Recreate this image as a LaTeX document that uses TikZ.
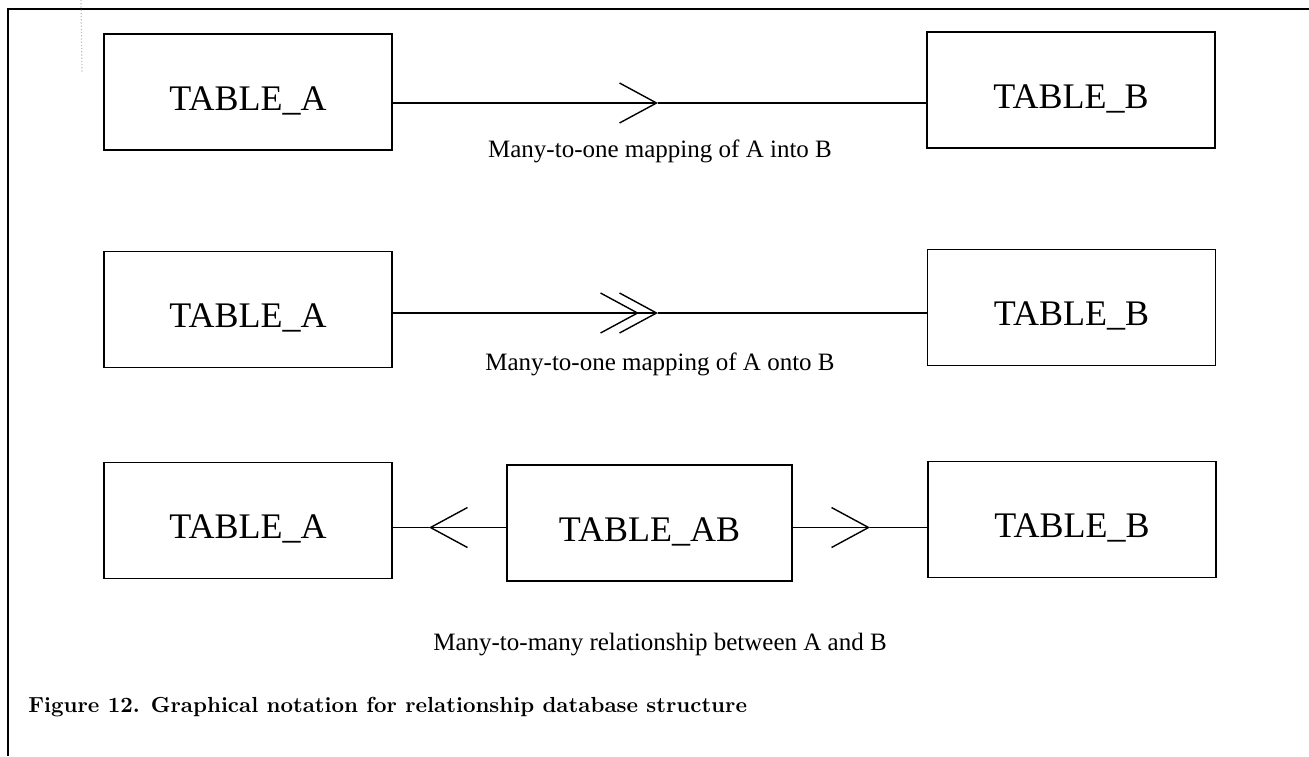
\documentclass[tikz,border=0pt]{standalone}
\usepackage{fontspec}
\newfontfamily\timesfont{Liberation Serif}
\usetikzlibrary{arrows.meta}

\begin{document}
\begin{tikzpicture}[x=0.5pt,y=-0.5pt,
	tablebox/.style={draw,line width=0.7pt,minimum width=144pt,minimum height=58pt,inner sep=0pt,text height=18pt,text depth=0pt,font=\timesfont\fontsize{18}{20}\selectfont},
	mapnote/.style={anchor=base,font=\timesfont\fontsize{12.5}{14}\selectfont},
	link/.style={line width=0.6pt},
	crow/.style={line width=0.6pt,-{Straight Barb[length=18.5pt,width=20pt,line width=0.7pt]}}]
	\useasboundingbox (0,0) rectangle (1309,756);
	% frame of the figure
	\draw [line width=0.75pt] (8,756) -- (8,9) -- (1309,9);
	\draw [gray!50,densely dotted,line width=0.6pt] (81,0) -- (82,72);
	% tables
	\node [tablebox] (A1) at (248,92) {TABLE\_A};
	\node [tablebox] (B1) at (1071,90) {TABLE\_B};
	\node [tablebox] (A2) at (248,309.5) {TABLE\_A};
	\node [tablebox] (B2) at (1071.5,307.5) {TABLE\_B};
	\node [tablebox] (A3) at (248,520.5) {TABLE\_A};
	\node [tablebox,minimum width=142.5pt] (AB) at (649.5,523) {TABLE\_AB};
	\node [tablebox] (B3) at (1072,519.5) {TABLE\_B};
	% into
	\coordinate (m1) at (658,103);
	\draw [crow] (A1.east |- m1) -- (m1);
	\draw [link] (m1) -- (m1 -| B1.west);
	% onto
	\coordinate (m2) at (658,313);
	\coordinate (n2) at (639,313);
	\draw [crow] (A2.east |- m2) -- (m2);
	\draw [crow] (A2.east |- n2) -- (n2);
	\draw [link] (m2) -- (m2 -| B2.west);
	% many-to-many
	\coordinate (m3) at (429,527.5);
	\coordinate (k3) at (870,527.5);
	\draw [crow] (AB.west |- m3) -- (m3);
	\draw [link] (m3) -- (m3 -| A3.east);
	\draw [crow] (AB.east |- k3) -- (k3);
	\draw [link] (k3) -- (k3 -| B3.west);
	% captions
	\node [mapnote] (c1) at (660,157) {Many-to-one mapping of A into B};
	\node [mapnote] (c2) at (660,370) {Many-to-one mapping of A onto B};
	\node [mapnote] (c3) at (660,650) {Many-to-many relationship between A and B};
	\node [anchor=base west,inner sep=0pt,font=\bfseries\fontsize{10.9}{13}\selectfont] (fig) at (28,712) {Figure 12. Graphical notation for relationship database structure};
\end{tikzpicture}
\end{document}
